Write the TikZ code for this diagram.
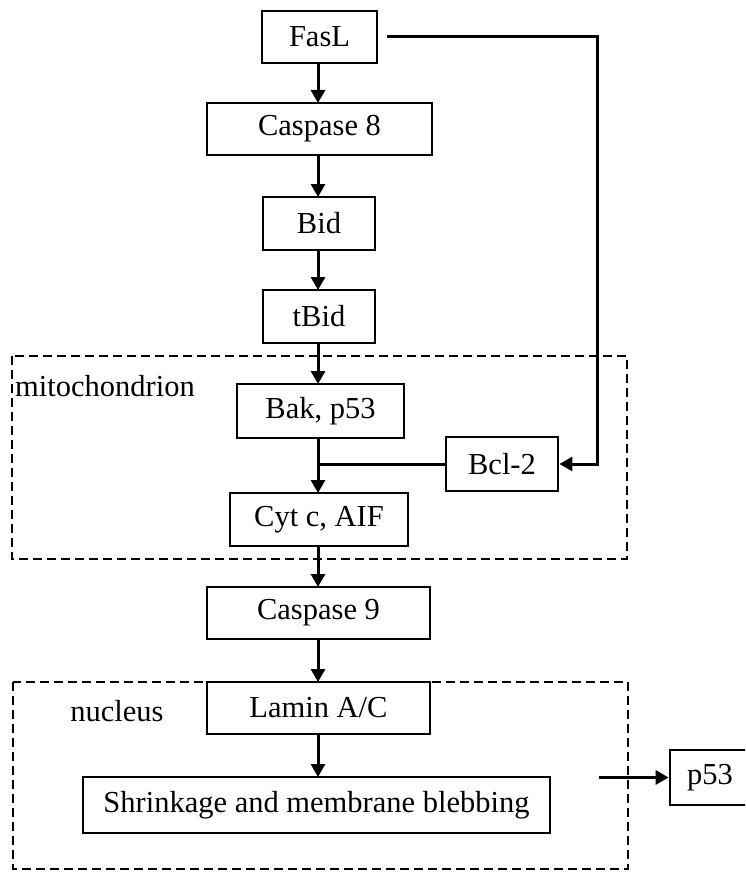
\documentclass[tikz,border=0pt]{standalone}
\usepackage{fontspec}
\setmainfont{Liberation Serif}
\usetikzlibrary{arrows.meta}
\begin{document}
\begin{tikzpicture}[x=1pt,y=-1pt,
  box/.style={draw, line width=2.8pt, rectangle, inner sep=0pt, font=\fontsize{30.5}{35}\selectfont},
  arr/.style={line width=3pt, -{Triangle[length=13pt,width=14pt]}},
  ln/.style={line width=3pt},
  region/.style={draw, line width=2.4pt, dash pattern=on 9pt off 5pt},
  lab/.style={inner sep=0pt, font=\fontsize{30.5}{35}\selectfont}]
\clip (0,0) rectangle (745,872);
\fill[white] (0,0) rectangle (745,872);
% regions
\draw[region] (12,356) rectangle (627,559);
\draw[region] (13,682) rectangle (628,869);
\node[lab, anchor=west] (mitolab) at (15,386) {mitochondrion};
\node[lab] (nuclab) at (117,711) {nucleus};
% boxes
\node[box, minimum width=115pt, minimum height=52pt] (fasl) at (319.5,37) {FasL};
\node[box, minimum width=225pt, minimum height=52pt] (casp8) at (319.5,129) {Caspase 8};
\node[box, minimum width=112pt, minimum height=53pt] (bid) at (319,223.5) {Bid};
\node[box, minimum width=112pt, minimum height=53pt] (tbid) at (319,316.5) {tBid};
\node[box, minimum width=167pt, minimum height=54pt] (bak) at (320.5,411) {Bak, p53};
\node[box, minimum width=112pt, minimum height=54pt] (bcl) at (502,464) {Bcl-2};
\node[box, minimum width=178pt, minimum height=53pt] (cyt) at (319,519.5) {Cyt c, AIF};
\node[box, minimum width=223pt, minimum height=52pt] (casp9) at (318.5,613) {Caspase 9};
\node[box, minimum width=223pt, minimum height=52pt] (lamin) at (318.5,708) {Lamin A/C};
\node[box, minimum width=467pt, minimum height=56pt] (shrink) at (316.5,805) {Shrinkage and membrane blebbing};
\node[box, minimum width=80pt, minimum height=55pt] (p53) at (710,777.5) {p53\hspace{6pt}};
% coordinates
\coordinate (j) at (318,464);
\coordinate (fs) at (387,37);
\coordinate (fc) at (597,464);
\coordinate (ps) at (599,777.5);
% connectors
\draw[arr] (318,63) -- (318,103);
\draw[arr] (318,155) -- (318,197);
\draw[arr] (318,250) -- (318,290);
\draw[arr] (318,343) -- (318,384);
\draw[arr] (318,438) -- (318,493);
\draw[arr] (318,546) -- (318,587);
\draw[arr] (318,639) -- (318,682);
\draw[arr] (318,734) -- (318,777);
\draw[ln] (bcl.west) -- (j);
\draw[arr] (fs) -| (fc) -- (bcl.east);
\draw[arr] (ps) -- (p53.west);
\end{tikzpicture}
\end{document}
